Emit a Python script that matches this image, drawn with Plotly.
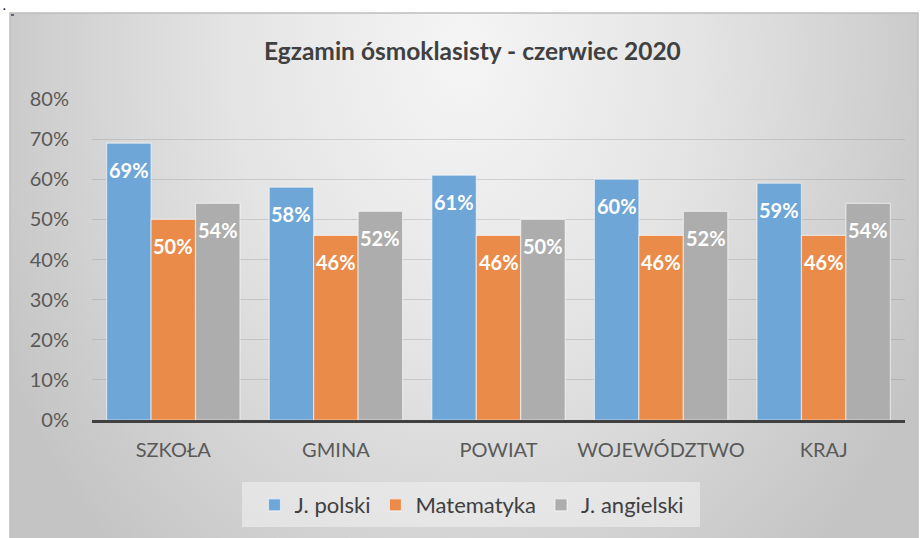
import base64
import plotly.graph_objects as go

categories = ["SZKOŁA", "GMINA", "POWIAT", "WOJEWÓDZTWO", "KRAJ"]
series_names = ["J. polski", "Matematyka", "J. angielski"]
polski = [69, 58, 61, 60, 59]
matematyka = [50, 46, 46, 46, 46]
angielski = [54, 52, 50, 52, 54]
y_ticks = [0, 10, 20, 30, 40, 50, 60, 70, 80]
y_tick_labels = [f"{v}%" for v in y_ticks]
title_text = "Egzamin ósmoklasisty - czerwiec 2020"

colors = ["#6EA6D8", "#EB8B49", "#ADADAD"]
series_values = [polski, matematyka, angielski]

FONT = "Lato"

# --- pixel geometry of the plot area ---
W, H = 920, 538
L, R, T, B = 92, 15, 99, 118
pw, ph = W - L - R, H - T - B


def px_x(px):
    return (px - L) / pw


def px_y(py):
    return (H - B - py) / ph


# background gradient (svg data uri)
bw, bh = 908, 527
svg = f'''<svg xmlns="http://www.w3.org/2000/svg" width="{bw}" height="{bh}" viewBox="0 0 {bw} {bh}" preserveAspectRatio="none">
<defs><radialGradient id="g" gradientUnits="userSpaceOnUse" cx="454" cy="40" r="520" gradientTransform="translate(454,40) scale(1,1.3) translate(-454,-40)">
<stop offset="0" stop-color="#f5f5f5"/><stop offset="0.45" stop-color="#e4e4e4"/><stop offset="1" stop-color="#c4c4c4"/>
</radialGradient></defs><rect x="0" y="0" width="{bw}" height="{bh}" fill="url(#g)"/></svg>'''
src = "data:image/svg+xml;base64," + base64.b64encode(svg.encode()).decode()

fig = go.Figure()
for name, vals, col in zip(series_names, series_values, colors):
    fig.add_trace(go.Bar(
        x=categories, y=vals, name=name,
        marker=dict(color=col, line=dict(color="rgba(255,255,255,0.55)", width=1.2)),
        hoverinfo="skip",
    ))

# data labels
bar_w = pw / len(categories) * (1 - 0.18) / 3
offsets = [-bar_w, 0, bar_w]
for vals, off in zip(series_values, offsets):
    for c, v in zip(categories, vals):
        fig.add_annotation(
            x=c, y=v, xref="x", yref="y", text=f"<b>{v}%</b>", showarrow=False,
            xshift=off, yshift=-27, yanchor="middle", xanchor="center",
            font=dict(family=FONT, size=20, color="white"),
        )

# title
fig.add_annotation(
    x=px_x(472), y=px_y(50), xref="paper", yref="paper", text=f"<b>{title_text}</b>",
    showarrow=False, xanchor="center", yanchor="middle",
    font=dict(family=FONT, size=24.5, color="#404040"),
)

# stray dot at top-left
fig.add_annotation(
    x=px_x(4), y=px_y(-2), xref="paper", yref="paper", text="<b>.</b>",
    showarrow=False, xanchor="center", yanchor="top", borderpad=0,
    font=dict(family=FONT, size=11, color="black"),
)

fig.update_layout(
    width=W, height=H,
    margin=dict(l=L, r=R, t=T, b=B, autoexpand=False),
    paper_bgcolor="white", plot_bgcolor="rgba(0,0,0,0)",
    barmode="group", bargap=0.18, bargroupgap=0,
    showlegend=True,
    legend=dict(
        orientation="h", x=px_x(472), xanchor="center", y=px_y(505), yanchor="middle",
        bgcolor="rgba(0,0,0,0)", font=dict(family=FONT, size=22, color="#404040"),
        itemclick=False, traceorder="normal",
    ),
    images=[dict(
        source=src, xref="paper", yref="paper",
        x=px_x(10), y=px_y(13), sizex=bw / pw, sizey=bh / ph,
        xanchor="left", yanchor="top", sizing="stretch", layer="below",
    )],
    shapes=[
        dict(type="rect", xref="paper", yref="paper",
             x0=px_x(242), x1=px_x(700), y0=px_y(527), y1=px_y(482),
             fillcolor="rgba(240,240,240,0.6)", line=dict(width=0), layer="below"),
        dict(type="rect", xref="paper", yref="paper",
             x0=px_x(10), x1=px_x(918), y0=px_y(545), y1=px_y(13),
             fillcolor="rgba(0,0,0,0)", line=dict(color="#bdbdbd", width=1.5), layer="below"),
        dict(type="line", xref="paper", yref="paper",
             x0=px_x(11), x1=px_x(14), y0=px_y(15), y1=px_y(15),
             line=dict(color="black", width=1)),
    ],
    xaxis=dict(
        showgrid=False, showline=True, linecolor="#404040", linewidth=3,
        ticks="", ticklabelstandoff=10,
        tickfont=dict(family=FONT, size=20, color="#595959"),
    ),
    yaxis=dict(
        range=[0, 80], tickmode="array", tickvals=y_ticks, ticktext=y_tick_labels,
        showgrid=True, gridcolor="rgba(140,140,140,0.3)", gridwidth=1,
        zeroline=False, showline=False, ticks="", ticklabelstandoff=22,
        tickfont=dict(family=FONT, size=20, color="#595959"),
    ),
)

fig.write_html("out.html", config={"displayModeBar": False},
               post_script="document.body.style.margin='0';")
